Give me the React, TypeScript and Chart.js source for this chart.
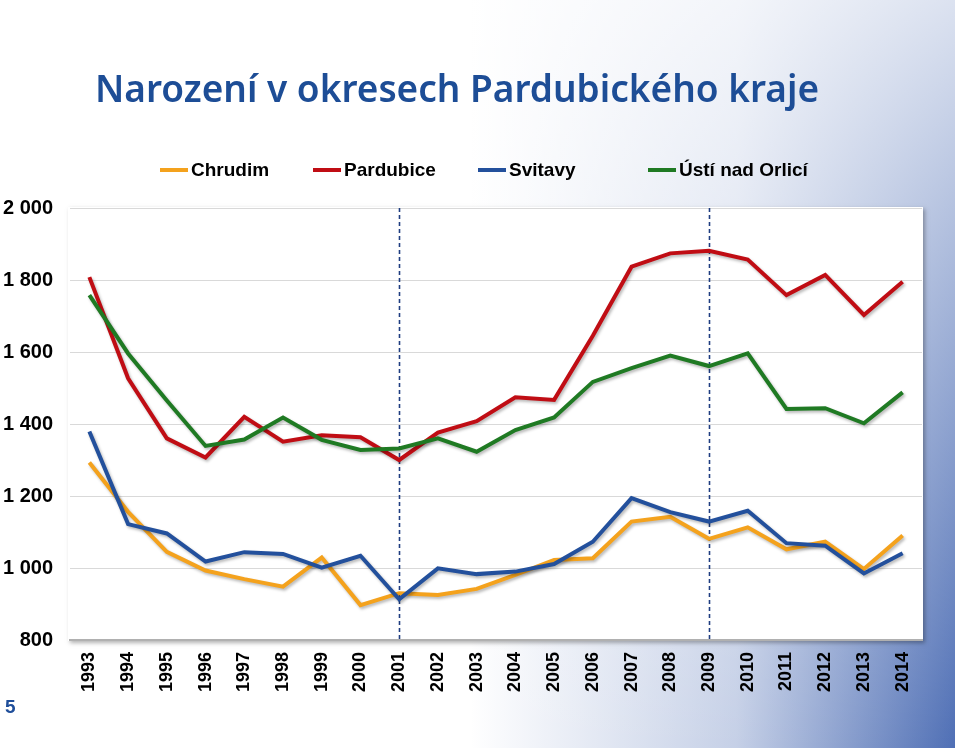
import React, { useEffect, useRef } from "react";
import { Chart, registerables } from "chart.js";

Chart.register(...registerables);

const titleText = "Narození v okresech Pardubického kraje";
const pageNumber = "5";

const years = [
  "1993", "1994", "1995", "1996", "1997", "1998", "1999", "2000", "2001", "2002", "2003",
  "2004", "2005", "2006", "2007", "2008", "2009", "2010", "2011", "2012", "2013", "2014",
];

const seriesNames = ["Chrudim", "Pardubice", "Svitavy", "Ústí nad Orlicí"];

const chrudim = [1293, 1156, 1045, 993, 969, 948, 1029, 897, 930, 925, 942, 981, 1022, 1027, 1129, 1142, 1081, 1113, 1052, 1073, 997, 1090];
const pardubice = [1808, 1527, 1360, 1307, 1420, 1351, 1369, 1363, 1300, 1376, 1408, 1474, 1467, 1645, 1837, 1874, 1881, 1857, 1758, 1814, 1703, 1795];
const svitavy = [1379, 1122, 1096, 1018, 1044, 1039, 1001, 1034, 913, 999, 983, 990, 1011, 1073, 1194, 1155, 1129, 1159, 1069, 1062, 985, 1041];
const ustiNadOrlici = [1758, 1596, 1465, 1339, 1357, 1418, 1356, 1328, 1332, 1360, 1323, 1383, 1418, 1517, 1555, 1590, 1561, 1596, 1442, 1444, 1402, 1488];

const markerYears = ["2001", "2009"];

const yMin = 800;
const yMax = 2000;
const yStep = 200;

const colors = ["#f4a21d", "#c00d14", "#23509c", "#1f7a23"];
const legendX = [160, 313, 478, 648];

const W = 960;
const H = 752;

const backgroundPlugin = {
  id: "slideBackground",
  beforeDraw(chart: any) {
    const ctx = chart.ctx as CanvasRenderingContext2D;
    const a = chart.chartArea;
    ctx.save();
    ctx.fillStyle = "#ffffff";
    ctx.fillRect(0, 0, W, H);
    const gx = ctx.createLinearGradient(470, 0, 955, 0);
    gx.addColorStop(0, "rgba(79,111,181,0)");
    gx.addColorStop(0.55, "rgba(79,111,181,0.33)");
    gx.addColorStop(1, "rgba(79,111,181,1)");
    ctx.fillStyle = gx;
    ctx.fillRect(0, 0, 955, 748);
    const gy = ctx.createLinearGradient(0, 0, 0, 748);
    gy.addColorStop(0, "rgba(255,255,255,0.8)");
    gy.addColorStop(1, "rgba(255,255,255,0)");
    ctx.fillStyle = gy;
    ctx.fillRect(0, 0, 955, 748);
    // panel
    ctx.shadowColor = "rgba(0,0,0,0.3)";
    ctx.shadowOffsetX = 2;
    ctx.shadowOffsetY = 2;
    ctx.shadowBlur = 4;
    ctx.fillStyle = "#ffffff";
    ctx.fillRect(a.left - 2, a.top - 1, a.right - a.left + 3, a.bottom - a.top + 2);
    ctx.restore();
  },
};

const shadowPlugin = {
  id: "lineShadow",
  beforeDatasetDraw(chart: any) {
    const ctx = chart.ctx as CanvasRenderingContext2D;
    ctx.save();
    ctx.shadowColor = "rgba(0,0,0,0.28)";
    ctx.shadowOffsetX = 1.5;
    ctx.shadowOffsetY = 2;
    ctx.shadowBlur = 3;
  },
  afterDatasetDraw(chart: any) {
    chart.ctx.restore();
  },
};

const markerPlugin = {
  id: "markerLines",
  beforeDatasetsDraw(chart: any) {
    const ctx = chart.ctx as CanvasRenderingContext2D;
    const xs = chart.scales.x;
    const ys = chart.scales.y;
    ctx.save();
    ctx.strokeStyle = "#1f3d80";
    ctx.lineWidth = 1.6;
    ctx.setLineDash([4, 3]);
    markerYears.forEach((yr) => {
      const x = Math.round(xs.getPixelForValue(years.indexOf(yr))) + 0.5;
      ctx.beginPath();
      ctx.moveTo(x, ys.getPixelForValue(yMax));
      ctx.lineTo(x, ys.getPixelForValue(yMin));
      ctx.stroke();
    });
    ctx.restore();
  },
};

const textPlugin = {
  id: "slideText",
  afterDraw(chart: any) {
    const ctx = chart.ctx as CanvasRenderingContext2D;
    ctx.save();
    ctx.fillStyle = "#1d4d96";
    ctx.font = '600 37px "Noto Sans"';
    ctx.textAlign = "center";
    ctx.textBaseline = "alphabetic";
    ctx.fillText(titleText, 457, 102);

    ctx.font = 'bold 19px "Liberation Sans"';
    ctx.textAlign = "left";
    ctx.textBaseline = "middle";
    chart.data.datasets.forEach((ds: any, i: number) => {
      const x = legendX[i];
      ctx.strokeStyle = ds.borderColor;
      ctx.lineWidth = 4;
      ctx.beginPath();
      ctx.moveTo(x, 170);
      ctx.lineTo(x + 28, 170);
      ctx.stroke();
      ctx.fillStyle = "#000000";
      ctx.fillText(ds.label, x + 31, 171);
    });

    ctx.fillStyle = "#1f4e9a";
    ctx.font = 'bold 19px "Liberation Sans"';
    ctx.fillText(pageNumber, 5, 708);
    ctx.restore();
  },
};

export default function App() {
  const ref = useRef<HTMLCanvasElement | null>(null);

  useEffect(() => {
    document.body.style.margin = "0";
    const canvas = ref.current;
    if (!canvas) return;
    const seriesValues = [chrudim, pardubice, svitavy, ustiNadOrlici];
    const chart = new Chart(canvas, {
      type: "line",
      data: {
        labels: years,
        datasets: seriesNames.map((name, i) => ({
          label: name,
          data: seriesValues[i],
          borderColor: colors[i],
          backgroundColor: colors[i],
          borderWidth: 4,
          pointRadius: 0,
          tension: 0,
          fill: false,
          order: seriesNames.length - i,
        })),
      },
      options: {
        responsive: false,
        animation: false,
        devicePixelRatio: 1,
        layout: { padding: { left: 0, right: 38, top: 208, bottom: 0 } },
        plugins: {
          legend: { display: false },
          title: { display: false },
          tooltip: { enabled: false },
        },
        scales: {
          x: {
            type: "category",
            offset: true,
            grid: { display: false, drawTicks: false },
            border: { display: true, color: "#b0b0b0", width: 2 },
            ticks: {
              minRotation: 90,
              maxRotation: 90,
              autoSkip: false,
              padding: 12,
              color: "#000000",
              font: { family: "Liberation Sans", weight: "bold", size: 18 },
            },
            afterFit: (s: any) => {
              s.height = 112;
            },
          },
          y: {
            min: yMin,
            max: yMax,
            grid: { color: "#d9d9d9", lineWidth: 1, drawTicks: false },
            border: { display: false },
            ticks: {
              stepSize: yStep,
              padding: 17,
              color: "#000000",
              font: { family: "Liberation Sans", weight: "bold", size: 20 },
              callback: (v: any) => {
                const n = Number(v);
                const s = String(n);
                return n >= 1000 ? s.slice(0, s.length - 3) + " " + s.slice(-3) : s;
              },
            },
            afterFit: (s: any) => {
              s.width = 70;
            },
          },
        },
      },
      plugins: [backgroundPlugin, markerPlugin, shadowPlugin, textPlugin],
    } as any);
    return () => chart.destroy();
  }, []);

  return (
    <canvas
      ref={ref}
      width={W}
      height={H}
      style={{ display: "block", width: W, height: H }}
    />
  );
}
